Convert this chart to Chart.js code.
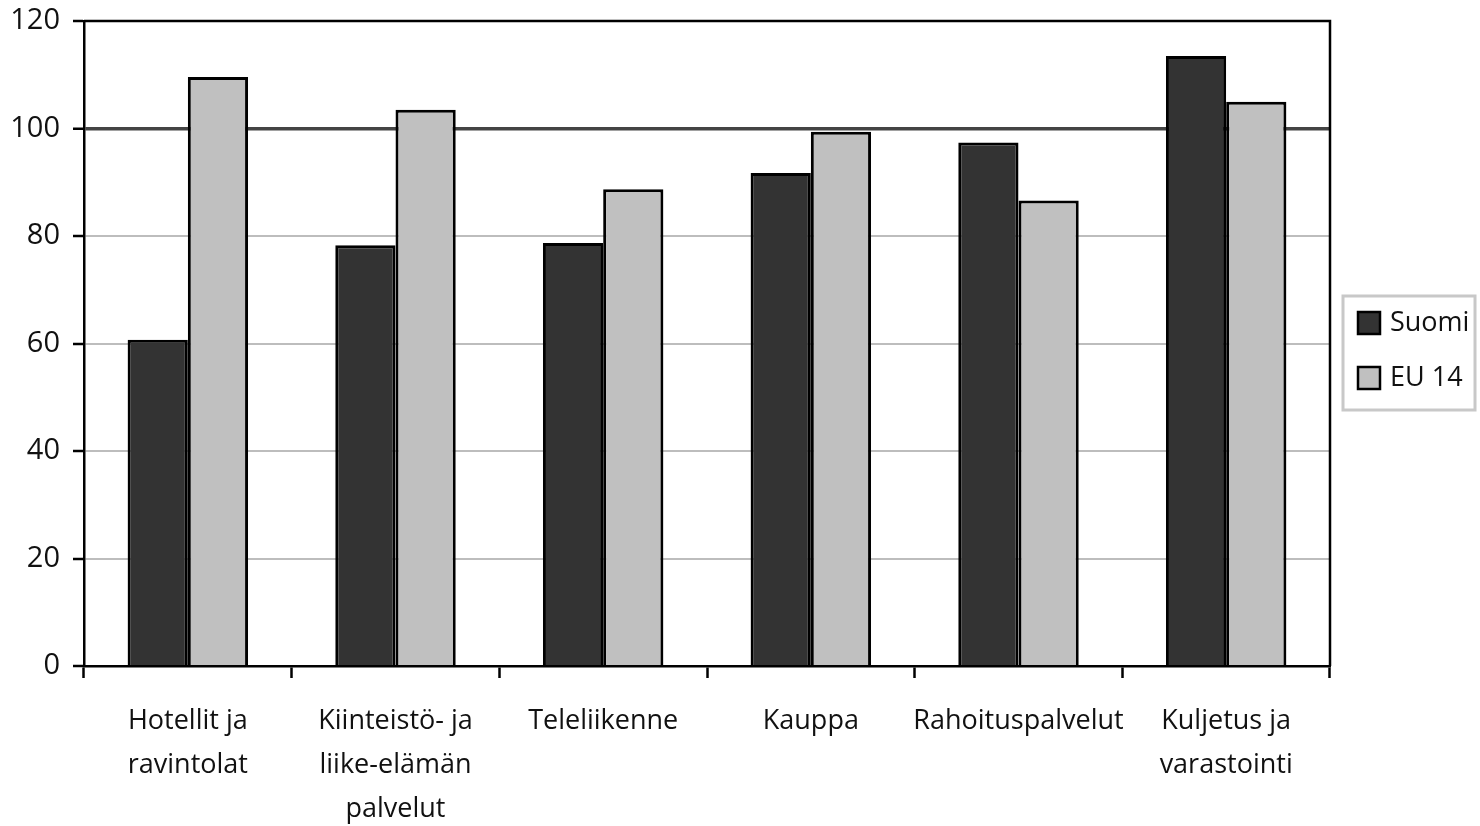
<!DOCTYPE html>
<html>
<head>
<meta charset="utf-8">
<script src="https://cdn.jsdelivr.net/npm/chart.js@4.4.1/dist/chart.umd.min.js"></script>
<style>
    html, body { margin: 0; padding: 0; background: #fff; }
    #wrap { width: 1480px; height: 826px; }
</style>
</head>
<body>
<div id="wrap"><canvas id="chart" width="1480" height="826"></canvas></div>
<script>
    var categories = [
        ['Hotellit ja', 'ravintolat'],
        ['Kiinteistö- ja', 'liike-elämän', 'palvelut'],
        'Teleliikenne',
        'Kauppa',
        'Rahoituspalvelut',
        ['Kuljetus ja', 'varastointi']
    ];
    var suomi = [60.7, 78.3, 78.7, 91.7, 97.4, 113.5];
    var eu14 = [109.6, 103.5, 88.7, 99.4, 86.6, 105.0];
    var yTicks = [0, 20, 40, 60, 80, 100, 120];

    var fontFamily = '"Open Sans", "Noto Sans", sans-serif';

    // frame (top + right edge) and a boxed legend on the right
    var framePlugin = {
        id: 'frame',
        afterDatasetsDraw: function(chart) {
            var a = chart.chartArea;
            var ctx = chart.ctx;
            ctx.save();
            ctx.strokeStyle = '#000';
            ctx.lineWidth = 2.5;
            ctx.beginPath();
            ctx.moveTo(a.left, a.top);
            ctx.lineTo(a.right, a.top);
            ctx.lineTo(a.right, a.bottom);
            ctx.stroke();
            ctx.restore();
        },
        afterDraw: function(chart) {
            var ctx = chart.ctx;
            var a = chart.chartArea;
            var left = a.right + 13;
            var top = 296;
            ctx.save();
            ctx.strokeStyle = '#c8c8c8';
            ctx.lineWidth = 3;
            ctx.strokeRect(left, top, 132, 114);
            ctx.font = '27px ' + fontFamily;
            ctx.textBaseline = 'middle';
            chart.data.datasets.forEach(function(ds, i) {
                var cy = top + 27 + i * 55;
                ctx.fillStyle = ds.backgroundColor;
                ctx.fillRect(left + 15, cy - 11, 22, 22);
                ctx.strokeStyle = '#000';
                ctx.lineWidth = 2.5;
                ctx.strokeRect(left + 15, cy - 11, 22, 22);
                ctx.fillStyle = '#111';
                ctx.fillText(ds.label, left + 47, cy);
            });
            ctx.restore();
        }
    };

    new Chart(document.getElementById('chart'), {
        type: 'bar',
        data: {
            labels: categories,
            datasets: [
                {
                    label: 'Suomi',
                    data: suomi,
                    backgroundColor: '#333333',
                    borderColor: '#000',
                    borderWidth: 3
                },
                {
                    label: 'EU 14',
                    data: eu14,
                    backgroundColor: '#c0c0c0',
                    borderColor: '#000',
                    borderWidth: 3
                }
            ]
        },
        options: {
            responsive: false,
            animation: false,
            devicePixelRatio: 1,
            layout: {
                padding: { left: 0, top: 21, right: 150, bottom: 0 }
            },
            datasets: {
                bar: {
                    barPercentage: 1.0,
                    categoryPercentage: 0.58
                }
            },
            scales: {
                x: {
                    offset: true,
                    afterFit: function(scale) {
                        scale.height = 160;
                        scale.paddingLeft = 0;
                        scale.paddingRight = 0;
                    },
                    grid: {
                        offset: true,
                        drawOnChartArea: false,
                        drawTicks: true,
                        tickLength: 12,
                        tickColor: '#000',
                        tickWidth: 2.5
                    },
                    border: { color: '#000', width: 2.5 },
                    ticks: {
                        color: '#111',
                        padding: 21,
                        maxRotation: 0,
                        autoSkip: false,
                        font: { family: fontFamily, size: 27, lineHeight: 1.63 }
                    }
                },
                y: {
                    min: 0,
                    max: 120,
                    afterFit: function(scale) {
                        scale.width = 84;
                        scale.paddingTop = 0;
                        scale.paddingBottom = 0;
                    },
                    afterBuildTicks: function(scale) {
                        scale.ticks = yTicks.map(function(v) { return { value: v }; });
                    },
                    grid: {
                        color: function(c) {
                            if (c.tick && c.tick.value === 100) return '#444';
                            if (c.tick && c.tick.value === 120) return '#000';
                            return '#bdbdbd';
                        },
                        lineWidth: function(c) {
                            if (c.tick && c.tick.value === 100) return 3.5;
                            return 2;
                        },
                        tickLength: 11,
                        tickColor: '#000',
                        tickWidth: 2.5
                    },
                    border: { color: '#000', width: 2.5 },
                    ticks: {
                        color: '#111',
                        padding: 13,
                        font: { family: fontFamily, size: 29 }
                    }
                }
            },
            plugins: {
                legend: { display: false },
                tooltip: { enabled: false }
            }
        },
        plugins: [framePlugin]
    });
</script>
</body>
</html>
